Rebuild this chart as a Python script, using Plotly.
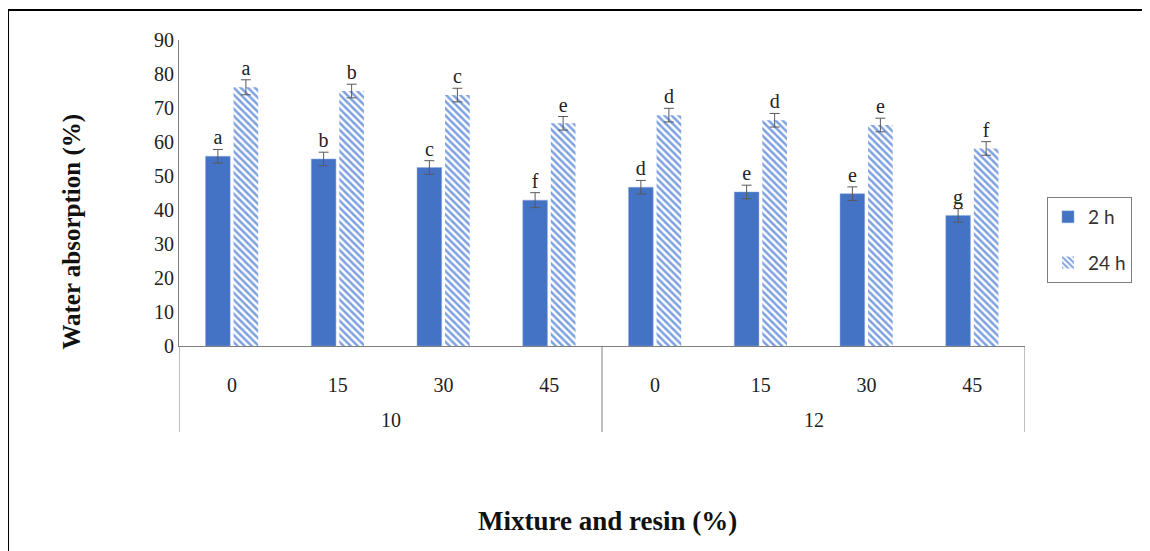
import plotly.graph_objects as go

resin = ["10", "10", "10", "10", "12", "12", "12", "12"]
mixture = ["0", "15", "30", "45", "0", "15", "30", "45"]
wa_2h = [55.8, 55.0, 52.5, 42.9, 46.7, 45.3, 44.8, 38.4]
wa_24h = [76.1, 75.0, 73.8, 65.5, 67.9, 66.4, 65.0, 58.1]
err_2h = [2.0, 2.0, 2.0, 2.2, 2.0, 2.0, 2.0, 2.0]
err_24h = [2.2, 2.0, 2.0, 2.0, 2.0, 2.0, 2.0, 2.0]
let_2h = ["a", "b", "c", "f", "d", "e", "e", "g"]
let_24h = ["a", "b", "c", "e", "d", "d", "e", "f"]

# category keys (resin | mixture); displayed with mixture as tick text
cats = [f"{r}|{m}" for r, m in zip(resin, mixture)]
serif = "Liberation Serif, Times New Roman, serif"
axis_grey = "#7f7f7f"

fig = go.Figure()
fig.add_trace(go.Bar(
    x=cats, y=wa_2h, name="2 h", offsetgroup="a", legendgroup="a",
    marker=dict(color="#4472C4", line=dict(color="#8faadc", width=0.5)),
    error_y=dict(type="data", array=err_2h, color="#595959", thickness=1, width=5),
))
fig.add_trace(go.Bar(
    x=cats, y=wa_24h, name="24 h", offsetgroup="b", legendgroup="b",
    marker=dict(color="rgba(0,0,0,0)", line=dict(width=0),
                pattern=dict(shape="\\", fgcolor="#7ea1e0", bgcolor="white",
                             size=5, solidity=0.5, fillmode="replace")),
    error_y=dict(type="data", array=err_24h, color="#595959", thickness=1, width=5),
))
fig.add_trace(go.Scatter(
    x=cats, y=[v + e for v, e in zip(wa_2h, err_2h)], text=let_2h, mode="text",
    offsetgroup="a", textposition="top center", showlegend=False,
    textfont=dict(family=serif, size=20, color="#222"), cliponaxis=False,
))
fig.add_trace(go.Scatter(
    x=cats, y=[v + e for v, e in zip(wa_24h, err_24h)], text=let_24h, mode="text",
    offsetgroup="b", textposition="top center", showlegend=False,
    textfont=dict(family=serif, size=20, color="#222"), cliponaxis=False,
))

# group labels and dividers derived from the category indices
groups = []
for i, r in enumerate(resin):
    if not groups or groups[-1][0] != r:
        groups.append([r, i, i])
    else:
        groups[-1][2] = i

annotations = [
    dict(text="<b>Water absorption (%)</b>", xref="paper", yref="paper",
         x=-0.145, y=0.375, textangle=-90, showarrow=False,
         font=dict(family=serif, size=25, color="#111")),
    dict(text="<b>Mixture and resin (%)</b>", xref="paper", yref="paper",
         x=0.507, y=-0.627, showarrow=False,
         font=dict(family=serif, size=27, color="#111")),
]
shapes = [
    dict(type="line", xref="paper", yref="paper", x0=-0.2021, x1=1.2, y0=1.098, y1=1.098,
         line=dict(color="black", width=2)),
    dict(type="line", xref="paper", yref="paper", x0=-0.2021, x1=-0.2021, y0=1.098, y1=-0.7,
         line=dict(color="black", width=2)),
]
bounds = set()
for name, i0, i1 in groups:
    annotations.append(dict(text=name, xref="x", yref="paper", x=(i0 + i1) / 2, y=-0.242,
                            yanchor="middle", showarrow=False,
                            font=dict(family=serif, size=20, color="#222")))
    bounds.update([i0 - 0.5, i1 + 0.5])
for b in sorted(bounds):
    shapes.append(dict(type="line", xref="x", yref="paper", x0=b, x1=b, y0=0, y1=-0.281,
                       line=dict(color=axis_grey, width=1)))

fig.update_layout(
    width=1142, height=543,
    margin=dict(l=171, r=125, t=32, b=205),
    paper_bgcolor="white", plot_bgcolor="white",
    barmode="group", bargap=0.47, bargroupgap=0.12,
    scattermode="group", scattergap=0.47,
    showlegend=True,
    legend=dict(x=1.026, y=0.487, xanchor="left", yanchor="top",
                bordercolor=axis_grey, borderwidth=1, bgcolor="white",
                font=dict(family="Lato", size=19, color="#333"),
                tracegroupgap=18, traceorder="grouped"),
    xaxis=dict(type="category", tickvals=cats, ticktext=mixture,
               range=[-0.5, len(cats) - 0.5],
               showline=True, linecolor=axis_grey, linewidth=1,
               showgrid=False, ticks="", ticklabelstandoff=21,
               tickfont=dict(family=serif, size=20, color="#222")),
    yaxis=dict(range=[0, 90], dtick=10, showline=True, linecolor=axis_grey, linewidth=1,
               showgrid=False, ticks="", zeroline=False,
               tickfont=dict(family=serif, size=20, color="#222")),
    annotations=annotations,
    shapes=shapes,
)

fig.write_html("out.html")
